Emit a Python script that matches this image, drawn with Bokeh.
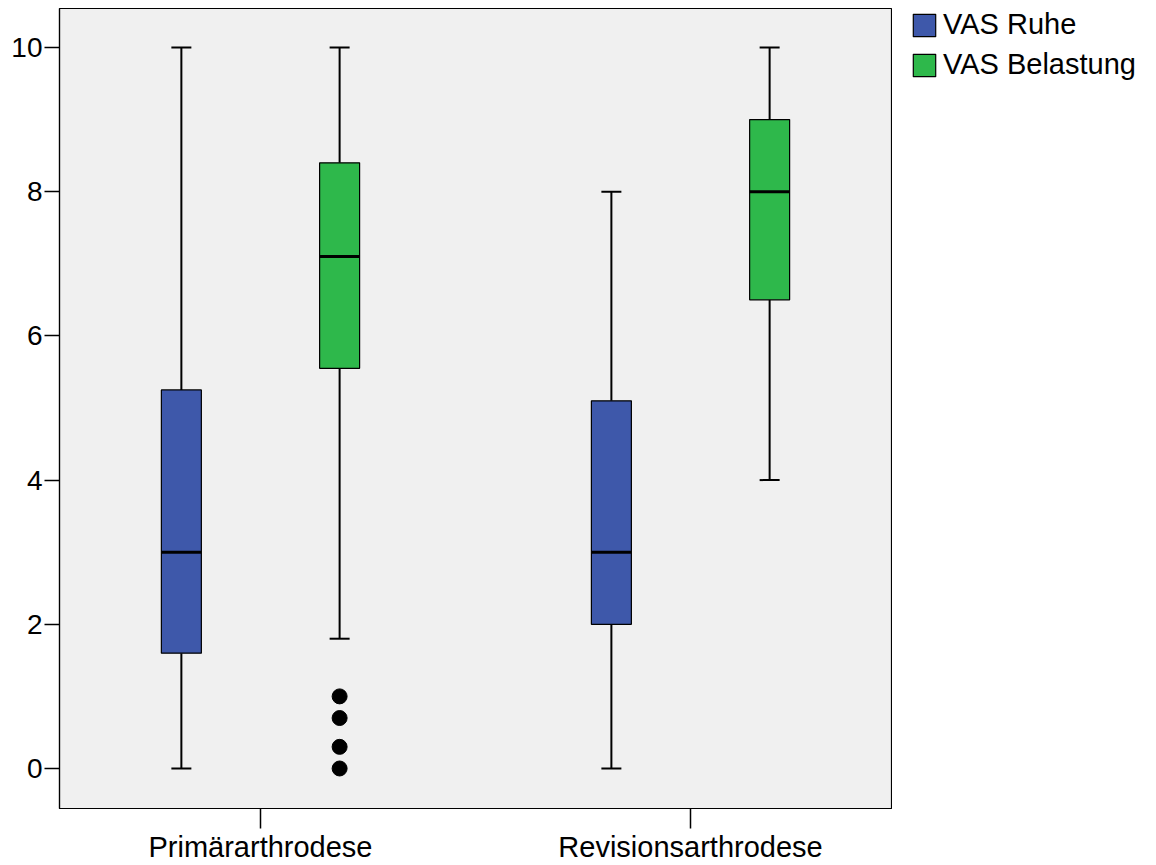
from bokeh.plotting import figure
from bokeh.layouts import row
from bokeh.models import (ColumnDataSource, FixedTicker, Legend, LegendItem, Range1d)
from bokeh.embed import file_html
from bokeh.resources import INLINE

# ---- data ----
groups = ["Primärarthrodese", "Revisionsarthrodese"]
series = ["VAS Ruhe", "VAS Belastung"]

ruhe_low = [0.0, 0.0]
ruhe_q1 = [1.6, 2.0]
ruhe_med = [3.0, 3.0]
ruhe_q3 = [5.25, 5.1]
ruhe_high = [10.0, 8.0]

bel_low = [1.8, 4.0]
bel_q1 = [5.55, 6.5]
bel_med = [7.1, 8.0]
bel_q3 = [8.4, 9.0]
bel_high = [10.0, 10.0]

outlier_group = [0, 0, 0, 0]          # index into groups
outlier_series = [1, 1, 1, 1]         # index into series
outlier_values = [1.0, 0.7, 0.3, 0.0]

y_ticks = [0, 2, 4, 6, 8, 10]

# ---- style ----
colors = ["#3e58aa", "#2eb84b"]
DODGE = 0.184
BOX_W = 0.093
FONT = "Liberation Sans"

p = figure(width=892, height=865, output_backend="svg", toolbar_location=None,
           x_range=Range1d(-0.4674, 1.4674), y_range=Range1d(-0.555, 10.541),
           min_border_left=59, min_border_right=1, min_border_top=8,
           min_border_bottom=57)
p.background_fill_color = "#f0f0f0"
p.border_fill_color = "white"
p.outline_line_color = "black"
p.outline_line_width = 1.2
p.xgrid.visible = False
p.ygrid.visible = False

stats = [
    (ruhe_low, ruhe_q1, ruhe_med, ruhe_q3, ruhe_high),
    (bel_low, bel_q1, bel_med, bel_q3, bel_high),
]
for s, (low, q1, med, q3, high) in enumerate(stats):
    off = -DODGE if s == 0 else DODGE
    xs = [i + off for i in range(len(groups))]
    src = ColumnDataSource(dict(x=xs, low=low, q1=q1, med=med, q3=q3, high=high))
    p.segment(x0="x", y0="q3", x1="x", y1="high", source=src, line_color="black", line_width=2)
    p.segment(x0="x", y0="low", x1="x", y1="q1", source=src, line_color="black", line_width=2)
    p.scatter(x="x", y="high", source=src, marker="dash", size=20, line_color="black", line_width=2)
    p.scatter(x="x", y="low", source=src, marker="dash", size=20, line_color="black", line_width=2)
    p.vbar(x="x", bottom="q1", top="q3", width=BOX_W, source=src,
           fill_color=colors[s], line_color="black", line_width=1.2)
    p.scatter(x="x", y="med", source=src, marker="dash", size=40, line_color="black", line_width=3)

ox = [g + (-DODGE if s == 0 else DODGE) for g, s in zip(outlier_group, outlier_series)]
p.scatter(x=ox, y=outlier_values, size=15, fill_color="black", line_color="black")

# axes
p.xaxis.ticker = FixedTicker(ticks=list(range(len(groups))))
p.xaxis.major_label_overrides = {i: g for i, g in enumerate(groups)}
p.yaxis.ticker = FixedTicker(ticks=y_ticks)
for ax in (p.xaxis[0], p.yaxis[0]):
    ax.axis_line_color = "black"
    ax.axis_line_width = 1.2
    ax.major_tick_line_color = "black"
    ax.major_tick_line_width = 1.5
    ax.major_tick_in = 0
    ax.minor_tick_line_color = None
    ax.major_label_text_font = FONT
    ax.major_label_text_color = "black"
p.xaxis.major_label_text_font_size = "29px"
p.yaxis.major_label_text_font_size = "28px"
p.xaxis.major_tick_out = 20
p.xaxis.major_label_standoff = 2
p.yaxis.major_tick_out = 15
p.yaxis.major_label_standoff = 2

# ---- legend panel (separate figure to the right) ----
lg = figure(width=264, height=865, output_backend="svg", toolbar_location=None,
            x_range=Range1d(0, 1), y_range=Range1d(0, 1),
            min_border_left=18, min_border_right=0, min_border_top=8, min_border_bottom=0)
lg.axis.visible = False
lg.xgrid.visible = False
lg.ygrid.visible = False
lg.outline_line_color = None
lg.background_fill_color = "white"
lg.border_fill_color = "white"
nan = float("nan")
key_renderers = [lg.vbar(x=[nan], top=[nan], width=0.1, fill_color=c,
                         line_color="black", line_width=1.2) for c in colors]

legend = Legend(items=[LegendItem(label=series[i], renderers=[key_renderers[i]]) for i in range(2)],
                location="top_left", margin=0, padding=11,
                border_line_color=None, background_fill_alpha=0,
                glyph_width=28, glyph_height=28, label_standoff=5, spacing=7,
                label_text_font=FONT, label_text_font_size="29px",
                label_text_color="black", label_height=28)
lg.add_layout(legend, "center")

layout = row(p, lg, spacing=0)
open("out.html", "w").write(file_html(layout, INLINE))
